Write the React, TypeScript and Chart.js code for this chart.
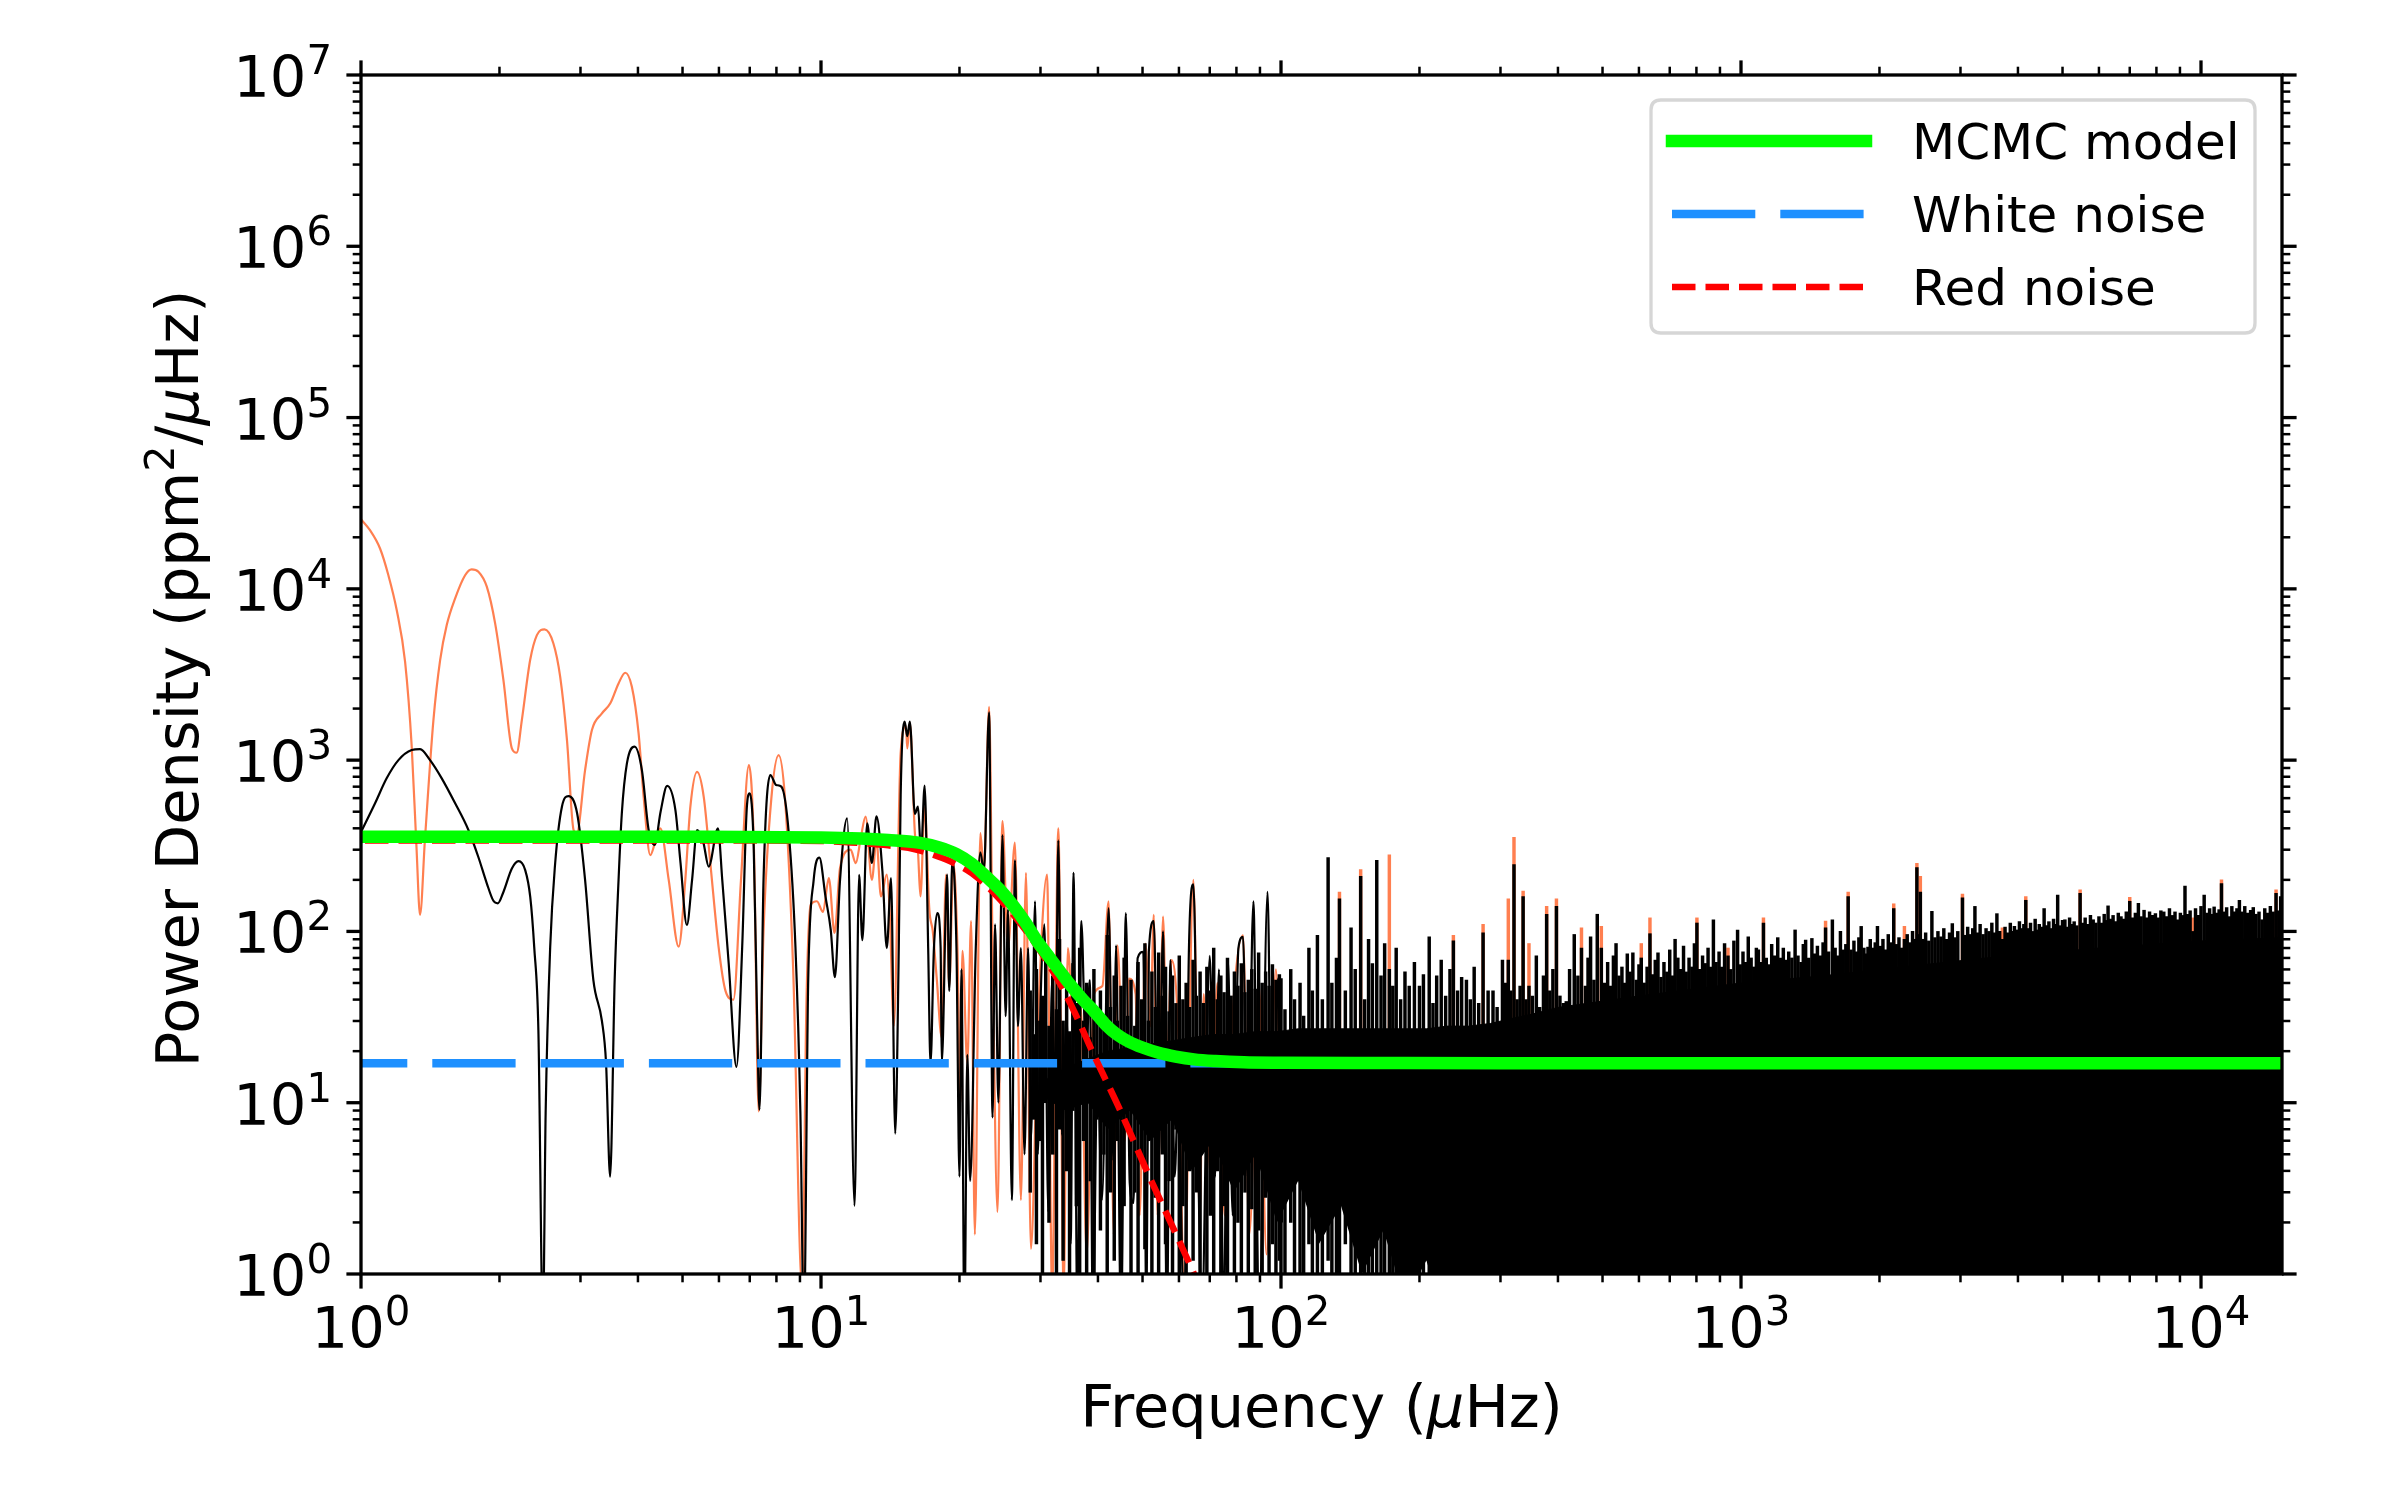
import React, { useEffect, useRef } from 'react';
import { Chart, registerables } from 'chart.js';

Chart.register(...registerables);

// ---------- axis ranges & tick labels ----------
const FREQ_MIN = 1;
const FREQ_MAX = 15000;
const POWER_MIN = 1;
const POWER_MAX = 1e7;
const xMajorTicks = [1, 10, 100, 1000, 10000];
const xTickExponents = ['0', '1', '2', '3', '4'];
const yMajorTicks = [1, 10, 100, 1e3, 1e4, 1e5, 1e6, 1e7];
const yTickExponents = ['0', '1', '2', '3', '4', '5', '6', '7'];

const X_TITLE = ['Frequency (', 'μ', 'Hz)'];
const Y_TITLE = ['Power Density (ppm', '2', '/', 'μ', 'Hz)'];

const LEGEND_LABELS = ['MCMC model', 'White noise', 'Red noise'];

// ---------- raw power spectrum (coral), low-frequency part [freq µHz, power] ----------
const rawSpectrumLow: [number, number][] = [
  [1.0, 25500], [1.046, 22000], [1.1, 17200], [1.147, 12000], [1.196, 7500], [1.247, 3750], [1.289, 1200],
  [1.32, 312], [1.344, 125], [1.377, 342], [1.437, 1714], [1.486, 3840], [1.536, 6150], [1.602, 8800],
  [1.684, 12000], [1.74, 13000], [1.8, 12600], [1.877, 10300], [1.957, 6290], [2.04, 2935], [2.128, 1172],
  [2.18, 1105], [2.237, 1714], [2.332, 3840], [2.412, 5370], [2.506, 5800], [2.62, 4800], [2.71, 3070],
  [2.804, 1310], [2.898, 391], [2.945, 374], [3.07, 875], [3.177, 1500], [3.34, 1876], [3.483, 2146],
  [3.63, 2806], [3.754, 3237], [3.88, 2680], [4.013, 1433], [4.116, 611], [4.255, 279], [4.363, 334],
  [4.475, 400], [4.666, 200], [4.905, 81.5], [5.07, 200], [5.2, 535], [5.378, 855], [5.56, 611],
  [5.747, 250], [5.99, 81], [6.2, 45], [6.45, 40], [6.7, 200], [6.97, 936], [7.15, 300], [7.32, 8.9],
  [7.5, 100], [7.8, 600], [8.09, 1070], [8.35, 600], [8.7, 60], [9.1, 0.8], [9.3, 40], [9.5, 143],
  [9.8, 150], [10.1, 130], [10.4, 205], [10.7, 98], [11.0, 235], [11.6, 300], [11.9, 250], [12.2, 350],
  [12.5, 468], [12.9, 200], [13.2, 340], [13.5, 160], [13.9, 215], [14.1, 134], [14.4, 28], [14.9, 1100],
  [15.3, 1580], [15.4, 1170], [15.6, 1650], [16.0, 375], [16.25, 290], [16.45, 160], [16.8, 530],
  [17.2, 134], [17.5, 100], [17.85, 53], [18.3, 24], [18.7, 215], [19.0, 48], [19.4, 250], [19.8, 80],
  [20.1, 10], [20.3, 77], [20.8, 17], [21.2, 115], [21.6, 1.7], [22.2, 375], [22.6, 224], [23.2, 2050],
  [23.6, 80], [24.2, 2.3], [24.8, 440], [25.5, 80], [26.4, 330], [27.2, 2.7], [27.9, 220], [28.6, 1.4],
  [29.6, 28], [31.0, 215], [31.8, 0.8], [32.8, 400], [33.7, 0.8], [34.4, 80], [35.4, 28], [36.7, 37],
  [37.8, 1.3], [39.2, 43], [40.9, 48], [42.2, 150], [43.3, 1.7], [44.1, 83], [45.8, 6], [46.7, 53],
  [48.3, 43], [49.3, 2.2], [50.7, 85], [52.0, 28], [52.9, 125], [53.9, 2.2], [55.4, 122], [56.5, 17],
  [57.8, 68], [59.8, 25], [61.6, 0.8], [64.5, 200], [66.6, 2.2], [67.9, 43], [70.3, 3.7], [72.7, 50],
  [75.4, 2.2], [78.5, 33], [82.7, 95], [85.3, 1.7], [89.6, 48], [93.0, 1.3], [97.5, 60], [100.5, 2.2],
];

// raw-spectrum peaks above the dense forest [freq, peak]
const rawForestPeaks: [number, number][] = [
  [134, 170], [149, 230], [172, 280], [237, 95], [275, 110], [312, 155], [321, 354], [336, 172],
  [346, 85], [378, 140], [397, 155], [450, 105], [497, 107], [607, 85], [634, 120], [802, 120],
  [937, 80], [1119, 120], [1527, 115], [1710, 170], [2148, 145], [2266, 107], [2412, 250], [2454, 210],
  [3030, 165], [3700, 105], [4160, 160], [5460, 175], [7000, 158], [9600, 120], [11080, 200], [14560, 175],
];

// ---------- main spectrum (black), low-frequency part ----------
const spectrumLow: [number, number][] = [
  [1.0, 380], [1.073, 560], [1.137, 783], [1.206, 1000], [1.289, 1145], [1.344, 1160], [1.413, 1000],
  [1.498, 783], [1.602, 560], [1.712, 391], [1.8, 271], [1.877, 191], [1.94, 151], [1.984, 146],
  [2.04, 170], [2.128, 233], [2.2, 257], [2.275, 228], [2.333, 159], [2.38, 81], [2.43, 26.6],
  [2.486, 0.5], [2.52, 8.7], [2.578, 81], [2.643, 250], [2.734, 535], [2.826, 617], [2.95, 490],
  [3.07, 200], [3.2, 52], [3.34, 30], [3.41, 17], [3.48, 3.7], [3.56, 52], [3.63, 200], [3.69, 490],
  [3.785, 957], [3.934, 1200], [4.08, 875], [4.22, 391], [4.35, 320], [4.48, 500], [4.63, 707],
  [4.825, 511], [4.95, 251], [5.11, 109], [5.245, 200], [5.38, 391], [5.55, 330], [5.7, 239],
  [5.97, 400], [6.1, 200], [6.3, 65], [6.55, 16.2], [6.74, 81], [6.9, 535], [7.0, 640], [7.14, 312],
  [7.26, 33], [7.35, 9.1], [7.5, 200], [7.76, 819], [7.99, 716], [8.2, 700], [8.51, 375], [8.8, 81],
  [9.02, 8.7], [9.18, 0.5], [9.38, 52], [9.64, 200], [9.92, 270], [10.23, 159], [10.5, 102],
  [10.72, 54], [11.0, 200], [11.4, 458], [11.83, 2.5], [12.1, 214], [12.3, 89], [12.6, 428],
  [12.9, 251], [13.2, 470], [13.6, 224], [13.9, 80], [14.2, 205], [14.5, 6.6], [14.76, 80], [14.9, 627],
  [15.2, 1680], [15.4, 1380], [15.6, 1680], [16.0, 485], [16.25, 535], [16.5, 290], [16.8, 710],
  [17.1, 80], [17.3, 17], [17.6, 80], [17.9, 128], [18.2, 80], [18.3, 17], [18.8, 215], [19.0, 45],
  [19.3, 260], [19.7, 80], [20.0, 3.7], [20.2, 60], [20.5, 0.5], [20.8, 19], [21.1, 3.5], [21.7, 80],
  [22.2, 290], [22.6, 224], [23.2, 1900], [23.6, 8.2], [23.9, 110], [24.3, 10], [24.8, 365], [25.2, 32],
  [25.5, 134], [26.0, 2.7], [26.4, 260], [26.8, 28], [27.2, 80], [27.7, 5], [28.2, 80], [28.6, 6],
  [29.2, 150], [29.6, 5], [30.0, 37], [30.6, 110], [31.2, 2.3], [31.8, 53], [32.3, 10], [32.8, 340],
  [33.4, 6.5], [34.2, 32], [34.9, 1.5], [35.4, 220], [36.1, 0.5], [36.8, 115], [37.7, 17], [38.4, 52],
  [39.0, 0.5], [39.9, 17], [40.8, 2.7], [42.2, 137], [43.2, 4.6], [43.8, 83], [44.9, 0.5], [46.0, 128],
  [46.9, 3.4], [47.8, 2.6], [48.8, 70], [50.2, 76], [51.0, 0.5], [51.6, 76], [52.9, 115], [54.2, 4.6],
  [55.4, 100], [56.5, 0.5], [57.5, 68], [58.7, 3.7], [59.8, 11.5], [61.6, 0.5], [63.1, 83], [64.5, 188],
  [65.9, 8], [67.2, 0.5], [70.0, 72], [71.9, 3.7], [73.3, 60], [75.1, 0.5], [76.7, 68], [78.5, 2.2],
  [80.8, 80], [82.7, 93], [84.6, 3.7], [87.1, 150], [89.6, 0.5], [93.5, 170], [95.8, 2.2], [98.5, 53],
  [100.5, 2],
];

// dense forest of the main spectrum: [freq, trough, peak]
const forest28to100: [number, number, number][] = [
  [28.5, 3, 45], [29, 8, 25], [29.4, 1.5, 60], [29.9, 6, 30], [30.3, 0.5, 42], [30.8, 10, 70],
  [31.3, 2, 28], [31.9, 5, 55], [32.5, 0.8, 35], [33, 7, 90], [33.6, 1.2, 30], [34.2, 4, 48],
  [34.7, 0.5, 26], [35.3, 9, 65], [35.9, 2.5, 38], [36.5, 0.6, 80], [37.2, 6, 30], [37.8, 1, 50],
  [38.5, 3.5, 24], [39.2, 0.5, 60], [39.8, 8, 34], [40.5, 1.8, 45], [41.2, 5, 28], [41.9, 0.7, 95],
  [42.6, 3, 36], [43.4, 1.2, 55], [44.1, 6, 30], [44.9, 0.5, 48], [45.6, 2.5, 70], [46.4, 7, 32],
  [47.2, 0.9, 52], [48.1, 3, 28], [48.9, 0.5, 66], [49.8, 4.5, 40], [50.6, 1.4, 85], [51.5, 6, 30],
  [52.4, 0.6, 58], [53.3, 2.8, 36], [54.2, 0.5, 75], [55.2, 5, 42], [56.1, 1.5, 62], [57.1, 3.5, 34],
  [58.1, 0.5, 55], [59.1, 7, 38], [60.1, 1, 72], [61.2, 2.5, 40], [62.2, 0.5, 50], [63.3, 4, 36],
  [64.4, 1.2, 68], [65.5, 3, 42], [66.7, 0.5, 58], [67.8, 6, 38], [69, 0.8, 62], [70.2, 2.2, 45],
  [71.4, 0.5, 80], [72.7, 4, 40], [74, 1, 55], [75.2, 2.5, 44], [76.5, 0.5, 70], [77.9, 3.5, 42],
  [79.2, 0.9, 58], [80.6, 2, 48], [82, 0.5, 65], [83.5, 3, 44], [84.9, 0.7, 52], [86.4, 2.4, 60],
  [87.9, 0.5, 46], [89.4, 1.8, 75], [91, 0.6, 50], [92.6, 2.8, 58], [94.2, 0.5, 48], [95.8, 1.5, 64],
  [97.5, 0.5, 52], [99.2, 1.2, 56],
];

const forest100to400: [number, number, number][] = [
  [100, 0.5, 53], [102, 0.5, 35], [105, 2, 60], [107, 0.5, 40], [110, 1, 50], [112, 0.5, 32],
  [115, 1.5, 80], [117, 0.5, 45], [120, 0.8, 95], [123, 0.5, 40], [126.6, 1.2, 270], [129, 0.5, 50],
  [132, 0.8, 70], [134, 0.5, 155], [138, 1.5, 45], [142, 0.5, 105], [145, 0.6, 60], [149, 0.5, 210],
  [152, 1, 40], [155, 0.5, 90], [158, 0.7, 65], [161.5, 0.5, 260], [165, 1, 55], [168, 0.5, 85],
  [172, 0.6, 60], [175, 0.5, 48], [178, 1, 80], [182, 0.5, 40], [186, 0.6, 58], [190, 0.5, 48],
  [195, 0.8, 66], [200, 0.5, 48], [204, 1, 56], [210, 0.5, 93], [214, 0.6, 38], [218, 0.5, 55],
  [223, 0.8, 68], [228, 0.5, 42], [233, 0.5, 60], [237, 0.5, 88], [242, 0.6, 45], [247, 0.5, 54],
  [253, 0.5, 52], [258, 0.5, 40], [263, 0.8, 62], [269, 0.5, 38], [275, 0.5, 98], [282, 0.6, 45],
  [289, 0.5, 45], [295, 0.5, 36], [303, 0.5, 68], [308, 0.6, 50], [312, 0.5, 68], [316, 0.5, 45],
  [321, 0.5, 246], [326, 0.6, 40], [331, 0.5, 48], [336, 0.5, 160], [341, 0.5, 40], [346, 0.5, 48],
  [352, 0.5, 42], [359, 0.5, 72], [365, 0.5, 36], [372, 0.5, 55], [378, 0.5, 126], [384, 0.5, 45],
  [390, 0.5, 60], [397, 0.5, 140],
];

const forest400to2500: [number, number][] = [
  [404, 42], [411, 38], [417, 39], [424, 60], [434, 96], [442, 55], [450, 80], [459, 48], [465, 70],
  [471, 93], [479, 52], [487, 126], [497, 80], [505, 50], [513, 66], [520, 48], [528, 72], [535, 85],
  [543, 55], [551, 62], [558, 50], [566, 74], [574, 58], [582, 75], [592, 52], [600, 64], [607, 70],
  [616, 50], [625, 62], [634, 97], [642, 56], [651, 68], [660, 75], [670, 54], [680, 66], [690, 58],
  [700, 78], [710, 55], [719, 90], [729, 70], [739, 60], [750, 82], [760, 58], [771, 70], [782, 62],
  [792, 85], [802, 112], [813, 60], [825, 72], [836, 65], [848, 80], [859, 62], [871, 117], [883, 66],
  [896, 76], [908, 62], [921, 85], [937, 72], [950, 60], [965, 88], [983, 102], [996, 64],
  [1010, 76], [1024, 66], [1037, 93], [1052, 70], [1066, 62], [1080, 80], [1091, 78], [1105, 66],
  [1119, 112], [1135, 70], [1150, 64], [1166, 84], [1183, 72], [1202, 92], [1218, 70], [1236, 80],
  [1253, 68], [1270, 76], [1290, 70], [1311, 102], [1330, 72], [1350, 66], [1366, 84], [1382, 89],
  [1403, 70], [1426, 91], [1445, 74], [1466, 82], [1488, 72], [1508, 86], [1527, 105], [1550, 76],
  [1580, 117], [1602, 80], [1622, 72], [1645, 100], [1668, 78], [1690, 84], [1710, 160], [1735, 78],
  [1760, 88], [1782, 76], [1804, 92], [1825, 107], [1850, 80], [1870, 74], [1888, 81], [1910, 90],
  [1935, 80], [1958, 86], [1980, 107], [2008, 82], [2035, 90], [2062, 78], [2090, 96], [2118, 86],
  [2148, 136], [2175, 84], [2205, 92], [2236, 80], [2266, 90], [2298, 96], [2330, 86], [2360, 100],
  [2390, 90], [2412, 236], [2440, 96], [2454, 170], [2485, 90],
];

const forest2500to15000: [number, number][] = [
  [2520, 98], [2560, 88], [2600, 131], [2640, 92], [2680, 100], [2720, 93], [2760, 104], [2800, 90],
  [2840, 98], [2880, 111], [2920, 92], [2960, 100], [3030, 157], [3070, 95], [3110, 106], [3150, 96],
  [3190, 104], [3225, 140], [3270, 98], [3310, 110], [3360, 96], [3410, 104], [3460, 100], [3510, 112],
  [3560, 98], [3600, 127], [3650, 100], [3700, 90], [3750, 106], [3800, 98], [3850, 112], [3890, 100],
  [3930, 107], [3980, 102], [4030, 114], [4080, 104], [4120, 110], [4160, 152], [4210, 104], [4260, 112],
  [4310, 100], [4360, 118], [4400, 102], [4450, 110], [4510, 106], [4560, 136], [4610, 108], [4670, 114],
  [4720, 104], [4780, 118], [4830, 110], [4880, 163], [4940, 108], [5000, 116], [5060, 117], [5120, 106],
  [5180, 120], [5240, 110], [5300, 114], [5370, 108], [5460, 167], [5530, 112], [5600, 120], [5670, 110],
  [5750, 124], [5830, 117], [5910, 112], [6000, 122], [6080, 112], [6160, 126], [6220, 116], [6280, 141],
  [6360, 118], [6440, 124], [6520, 114], [6610, 128], [6700, 122], [6790, 118], [6880, 130], [7000, 150],
  [7090, 120], [7200, 128], [7310, 146], [7410, 122], [7520, 133], [7620, 120], [7730, 130], [7840, 124],
  [7960, 127], [8070, 120], [8180, 132], [8300, 130], [8420, 122], [8540, 136], [8660, 124], [8780, 130],
  [8900, 117], [9020, 128], [9130, 124], [9230, 184], [9350, 126], [9470, 132], [9600, 100], [9730, 136],
  [9870, 124], [10000, 140], [10160, 163], [10300, 128], [10440, 136], [10560, 126], [10680, 139],
  [10820, 128], [10950, 134], [11080, 190], [11230, 130], [11370, 138], [11520, 122], [11670, 140],
  [11830, 130], [11970, 136], [12120, 152], [12280, 130], [12450, 140], [12620, 128], [12820, 133],
  [12990, 138], [13170, 126], [13370, 130], [13570, 117], [13760, 136], [13950, 128], [14150, 140],
  [14350, 130], [14560, 167], [14760, 132], [14900, 160], [15000, 150],
];

// solid core of the dense forest (ragged lower edge below 400 µHz)
const coreFreq = [30, 34, 38, 42, 47, 52, 58, 64, 71, 79, 88, 98, 109, 121, 135, 150, 167, 186, 207, 230, 256, 285, 317, 353, 400, 600, 1000, 1500, 2000, 3400, 6000, 10000, 15000];
const coreTop = [13, 16, 18, 20, 21, 22, 23, 24, 25, 25, 26, 26, 27, 27, 27, 27, 27, 27, 27, 28, 28, 29, 31, 33, 36, 42, 50, 55, 60, 70, 80, 88, 92];
const coreBottom = [11, 9, 10, 7, 9, 6, 8, 4, 6, 3, 5, 2, 3.5, 1.5, 2.5, 1, 1.8, 0.7, 1.2, 0.5, 0.9, 0.5, 0.7, 0.5, 0.5, 0.5, 0.5, 0.5, 0.5, 0.5, 0.5, 0.5, 0.5];

// ---------- fitted noise model ----------
const modelFreq = [1, 5, 10, 12.2, 14, 16.3, 18, 19.7, 21.3, 22.9, 24.5, 26.2, 27.8, 29.4, 31.2, 33, 35, 37.1, 39.3, 41.6, 44, 46.7, 50, 54.4, 59, 64.7, 72, 83, 100, 150, 300, 1000, 15000];
const modelPower = [357, 357, 354, 349, 342, 330, 310, 283, 248, 208, 175, 141, 113, 89, 72, 59, 48, 40, 34, 28.5, 25, 22.7, 21, 19.5, 18.6, 17.9, 17.5, 17.2, 17.1, 17.05, 17.0, 17.0, 17.0];
const whiteFreq = [1, 15000];
const whitePower = [17, 17];
const redFreq = [1, 5, 10, 12.2, 14, 16, 17.9, 19.5, 21.3, 23.9, 27.3, 31.2, 35, 39.2, 44.9, 51.4, 57.7, 64.7, 70];
const redPower = [340, 340, 337, 328, 318, 302, 275, 250, 218, 165, 109, 65, 37, 19, 8.8, 3.85, 1.97, 1.0, 0.6];

// ---------- styling ----------
const FONT = '"DejaVu Sans", "Liberation Sans", Arial, sans-serif';
const CORAL = '#ff7f50';
const LIME = '#00ff00';
const DODGER = '#1e90ff';
const RED = '#ff0000';

const pairs = (f: number[], p: number[]) => f.map((x, i) => ({ x, y: p[i] }));

const mplPlugin = {
  id: 'mplFrame',
  beforeDraw(chart: any) {
    const { ctx, width, height } = chart;
    ctx.save();
    ctx.fillStyle = '#ffffff';
    ctx.fillRect(0, 0, width, height);
    ctx.restore();
  },
  afterDraw(chart: any) {
    const { ctx, chartArea: a } = chart;
    const xs = chart.scales.x;
    const ys = chart.scales.y;
    ctx.save();
    ctx.strokeStyle = '#000';
    ctx.fillStyle = '#000';
    ctx.lineCap = 'butt';
    const seg = (x1: number, y1: number, x2: number, y2: number, w: number) => {
      ctx.lineWidth = w;
      ctx.beginPath();
      ctx.moveTo(x1, y1);
      ctx.lineTo(x2, y2);
      ctx.stroke();
    };
    for (const d of xMajorTicks) {
      for (let m = 1; m <= 9; m++) {
        const v = d * m;
        if (v > FREQ_MAX || v < FREQ_MIN) continue;
        const px = xs.getPixelForValue(v);
        const major = m === 1;
        const L = major ? 14.6 : 8.3;
        const w = major ? 3.3 : 2.5;
        seg(px, a.bottom, px, a.bottom + L, w);
        seg(px, a.top, px, a.top - L, w);
      }
    }
    for (const d of yMajorTicks) {
      for (let m = 1; m <= 9; m++) {
        const v = d * m;
        if (v > POWER_MAX || v < POWER_MIN) continue;
        const py = ys.getPixelForValue(v);
        const major = m === 1;
        const L = major ? 14.6 : 8.3;
        const w = major ? 3.3 : 2.5;
        seg(a.left, py, a.left - L, py, w);
        seg(a.right, py, a.right + L, py, w);
      }
    }
    ctx.lineWidth = 3.3;
    ctx.lineJoin = 'miter';
    ctx.strokeRect(a.left, a.top, a.right - a.left, a.bottom - a.top);

    const MAIN = `57.5px ${FONT}`;
    const SUP = `40.25px ${FONT}`;
    ctx.textAlign = 'left';
    ctx.textBaseline = 'alphabetic';
    xMajorTicks.forEach((d, i) => {
      const px = xs.getPixelForValue(d);
      ctx.font = MAIN;
      const wm = ctx.measureText('10').width;
      ctx.font = SUP;
      const wsup = ctx.measureText(xTickExponents[i]).width;
      const x0 = px - (wm + wsup) / 2;
      ctx.font = MAIN;
      ctx.fillText('10', x0, a.bottom + 74.3);
      ctx.font = SUP;
      ctx.fillText(xTickExponents[i], x0 + wm, a.bottom + 51);
    });
    yMajorTicks.forEach((d, i) => {
      const py = ys.getPixelForValue(d);
      ctx.font = MAIN;
      const wm = ctx.measureText('10').width;
      ctx.font = SUP;
      const wsup = ctx.measureText(yTickExponents[i]).width;
      const x0 = a.left - 29 - (wm + wsup);
      ctx.font = MAIN;
      ctx.fillText('10', x0, py + 22);
      ctx.font = SUP;
      ctx.fillText(yTickExponents[i], x0 + wm, py - 1);
    });

    const NORMAL = `59px ${FONT}`;
    const ITALIC = `italic 59px ${FONT}`;
    const drawRuns = (runs: { t: string; f: string; dy: number }[], cx: number, baseY: number) => {
      let total = 0;
      for (const r of runs) { ctx.font = r.f; total += ctx.measureText(r.t).width; }
      let x = cx - total / 2;
      for (const r of runs) {
        ctx.font = r.f;
        ctx.fillText(r.t, x, baseY + r.dy);
        x += ctx.measureText(r.t).width;
      }
    };
    const cxPlot = (a.left + a.right) / 2;
    drawRuns([
      { t: X_TITLE[0], f: NORMAL, dy: 0 },
      { t: X_TITLE[1], f: ITALIC, dy: 0 },
      { t: X_TITLE[2], f: NORMAL, dy: 0 },
    ], cxPlot, a.bottom + 153);

    ctx.save();
    ctx.translate(198, (a.top + a.bottom) / 2 + 4);
    ctx.rotate(-Math.PI / 2);
    drawRuns([
      { t: Y_TITLE[0], f: NORMAL, dy: 0 },
      { t: Y_TITLE[1], f: `41.3px ${FONT}`, dy: -24.5 },
      { t: Y_TITLE[2], f: NORMAL, dy: 0 },
      { t: Y_TITLE[3], f: ITALIC, dy: 0 },
      { t: Y_TITLE[4], f: NORMAL, dy: 0 },
    ], 0, 0);
    ctx.restore();

    // legend
    const bx = a.right - 631;
    const by = a.top + 25;
    const bw = 604;
    const bh = 233;
    const r = 10;
    ctx.beginPath();
    ctx.moveTo(bx + r, by);
    ctx.lineTo(bx + bw - r, by);
    ctx.quadraticCurveTo(bx + bw, by, bx + bw, by + r);
    ctx.lineTo(bx + bw, by + bh - r);
    ctx.quadraticCurveTo(bx + bw, by + bh, bx + bw - r, by + bh);
    ctx.lineTo(bx + r, by + bh);
    ctx.quadraticCurveTo(bx, by + bh, bx, by + bh - r);
    ctx.lineTo(bx, by + r);
    ctx.quadraticCurveTo(bx, by, bx + r, by);
    ctx.closePath();
    ctx.fillStyle = 'rgba(255,255,255,0.8)';
    ctx.fill();
    ctx.lineWidth = 3.3;
    ctx.strokeStyle = 'rgba(204,204,204,0.8)';
    ctx.stroke();

    const dsets = chart.data.datasets;
    LEGEND_LABELS.forEach((label, i) => {
      const ds = dsets.find((d: any) => d.label === label);
      if (!ds) return;
      const ly = by + 41 + i * 73;
      ctx.save();
      ctx.strokeStyle = ds.borderColor;
      ctx.lineWidth = ds.borderWidth;
      if (ds.borderDash && ds.borderDash.length) {
        ctx.setLineDash(ds.borderDash);
        ctx.lineCap = 'butt';
      } else {
        ctx.setLineDash([]);
        ctx.lineCap = 'square';
      }
      ctx.beginPath();
      ctx.moveTo(bx + 21, ly);
      ctx.lineTo(bx + 215, ly);
      ctx.stroke();
      ctx.restore();
      ctx.fillStyle = '#000';
      ctx.font = `50px ${FONT}`;
      ctx.textAlign = 'left';
      ctx.fillText(label, bx + 261, ly + 17.5);
    });

    ctx.restore();
  },
};

export default function App() {
  const canvasRef = useRef<HTMLCanvasElement | null>(null);

  useEffect(() => {
    document.body.style.margin = '0';
    const canvas = canvasRef.current;
    if (!canvas) return;

    const forestMain = [
      ...forest28to100.map(([f, lo, hi]) => ({ x: f, y: [lo, hi] })),
      ...forest100to400.map(([f, lo, hi]) => ({ x: f, y: [lo, hi] })),
      ...forest400to2500.map(([f, hi]) => ({ x: f, y: [5, hi] })),
      ...forest2500to15000.map(([f, hi]) => ({ x: f, y: [5, hi] })),
    ];

    const chart = new Chart(canvas, {
      type: 'line',
      data: {
        datasets: [
          {
            type: 'line', label: 'MCMC model', data: pairs(modelFreq, modelPower),
            borderColor: LIME, borderWidth: 12.5, cubicInterpolationMode: 'monotone',
            pointRadius: 0, fill: false, order: 0, clip: 0, borderJoinStyle: 'round',
          },
          {
            type: 'line', label: 'Red noise', data: pairs(redFreq, redPower),
            borderColor: RED, borderWidth: 6.5, borderDash: [23.5, 10], borderDashOffset: 29.5,
            cubicInterpolationMode: 'monotone', pointRadius: 0, fill: false, order: 1, clip: 0,
          },
          {
            type: 'line', label: 'White noise', data: pairs(whiteFreq, whitePower),
            borderColor: DODGER, borderWidth: 8.3, borderDash: [83.3, 25], borderDashOffset: 37,
            pointRadius: 0, fill: false, order: 2, clip: 0,
          },
          {
            type: 'line', label: 'spectrum', data: spectrumLow.map(([x, y]) => ({ x, y })),
            borderColor: '#000000', borderWidth: 2.2, cubicInterpolationMode: 'monotone',
            pointRadius: 0, fill: false, order: 3, clip: 0,
          },
          {
            type: 'bar', label: 'spectrum forest', data: forestMain,
            backgroundColor: '#000000', borderWidth: 0, barThickness: 2.8, grouped: false,
            order: 4, clip: 0,
          },
          {
            type: 'line', label: 'forest core top', data: pairs(coreFreq, coreTop),
            borderColor: '#000000', borderWidth: 1, backgroundColor: '#000000', fill: '+1',
            pointRadius: 0, order: 5, clip: 0,
          },
          {
            type: 'line', label: 'forest core bottom', data: pairs(coreFreq, coreBottom),
            borderColor: '#000000', borderWidth: 0, fill: false, pointRadius: 0, order: 6, clip: 0,
          },
          {
            type: 'bar', label: 'raw forest', data: rawForestPeaks.map(([f, hi]) => ({ x: f, y: [5, hi] })),
            backgroundColor: CORAL, borderWidth: 0, barThickness: 2.8, grouped: false,
            order: 7, clip: 0,
          },
          {
            type: 'line', label: 'raw spectrum', data: rawSpectrumLow.map(([x, y]) => ({ x, y })),
            borderColor: CORAL, borderWidth: 2.2, cubicInterpolationMode: 'monotone',
            pointRadius: 0, fill: false, order: 8, clip: 0,
          },
        ] as any,
      },
      options: {
        responsive: false,
        animation: false,
        devicePixelRatio: 1,
        events: [],
        layout: { padding: { left: 361, top: 75, right: 118, bottom: 226 } },
        plugins: { legend: { display: false }, tooltip: { enabled: false }, title: { display: false } },
        elements: { point: { radius: 0 } },
        scales: {
          x: { type: 'logarithmic', min: FREQ_MIN, max: FREQ_MAX, display: false },
          y: { type: 'logarithmic', min: POWER_MIN, max: POWER_MAX, display: false },
        },
      } as any,
      plugins: [mplPlugin as any],
    });

    return () => {
      chart.destroy();
    };
  }, []);

  return (
    <div style={{ width: 2400, height: 1500, background: '#fff' }}>
      <canvas ref={canvasRef} width={2400} height={1500} style={{ display: 'block', width: 2400, height: 1500 }} />
    </div>
  );
}
